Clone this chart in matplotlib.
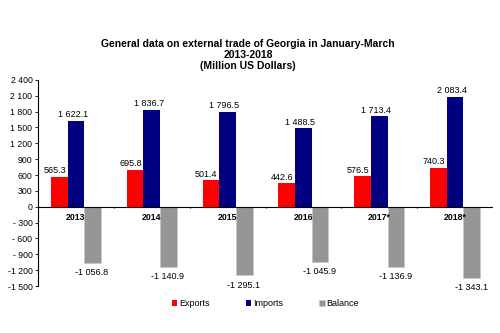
import numpy as np
import matplotlib.pyplot as plt

plt.rcParams['font.family'] = ['Liberation Sans', 'DejaVu Sans']

years = ['2013', '2014', '2015', '2016', '2017*', '2018*']
exports = [565.3, 695.8, 501.4, 442.6, 576.5, 740.3]
imports = [1622.1, 1836.7, 1796.5, 1488.5, 1713.4, 2083.4]
balance = [-1056.8, -1140.9, -1295.1, -1045.9, -1136.9, -1343.1]


def fmt(v):
    # thousands separated by a space, one decimal
    s = f'{abs(v):,.1f}'.replace(',', ' ')
    return ('-' if v < 0 else '') + s


def tick_fmt(v):
    s = f'{abs(int(v)):,}'.replace(',', ' ')
    if v < 0:
        return ('- ' if abs(v) < 1000 else '-') + s
    return s


fig = plt.figure(figsize=(5, 3.33), dpi=100)
ax = fig.add_axes([0.076, 0.141, 0.91, 0.619])

x = np.arange(len(years))
w = 0.22
ax.bar(x - w, exports, w, color='#ff0000', label='Exports')
ax.bar(x, imports, w, color='#000080', label='Imports')
ax.bar(x + w, balance, w, color='#969696', edgecolor='#c8c8c8', linewidth=0.5, label='Balance')

for i in range(len(years)):
    ax.text(x[i] - w - 0.06, exports[i] + 30, fmt(exports[i]), ha='center', va='bottom', fontsize=6.5)
    ax.text(x[i] - 0.04, imports[i] + 30, fmt(imports[i]), ha='center', va='bottom', fontsize=6.5)
    ax.text(x[i] + w - 0.01, balance[i] - 100, fmt(balance[i]), ha='center', va='top', fontsize=6.5)
    ax.text(x[i], -110, years[i], ha='center', va='top', fontsize=6.3, fontweight='bold')

ax.set_xlim(-0.5, len(years) - 0.5)
ax.set_ylim(-1500, 2400)
yt = np.arange(-1500, 2401, 300)
ax.set_yticks(yt)
ax.set_yticklabels([tick_fmt(v) for v in yt], fontsize=6.3)
ax.tick_params(axis='y', length=2, width=0.6, pad=2)
ax.set_xticks([])

ax.axhline(0, color='black', linewidth=0.8)
for b in np.arange(0.5, len(years) - 0.5):
    ax.plot([b, b], [0, -25], color='black', linewidth=0.5)

for side in ['top', 'right', 'bottom']:
    ax.spines[side].set_visible(False)
ax.spines['left'].set_linewidth(0.8)

ax.legend(loc='upper center', bbox_to_anchor=(0.5, -0.025), ncol=3, frameon=False,
          fontsize=6.5, handlelength=0.6, handleheight=0.6, handletextpad=0.2, columnspacing=4)

fig.text(0.496, 0.835, 'General data on external trade of Georgia in January-March\n2013-2018\n(Million US Dollars)',
         ha='center', va='center', fontsize=7.5, fontweight='bold', linespacing=1.1)

fig.savefig('out.png', dpi=100)
